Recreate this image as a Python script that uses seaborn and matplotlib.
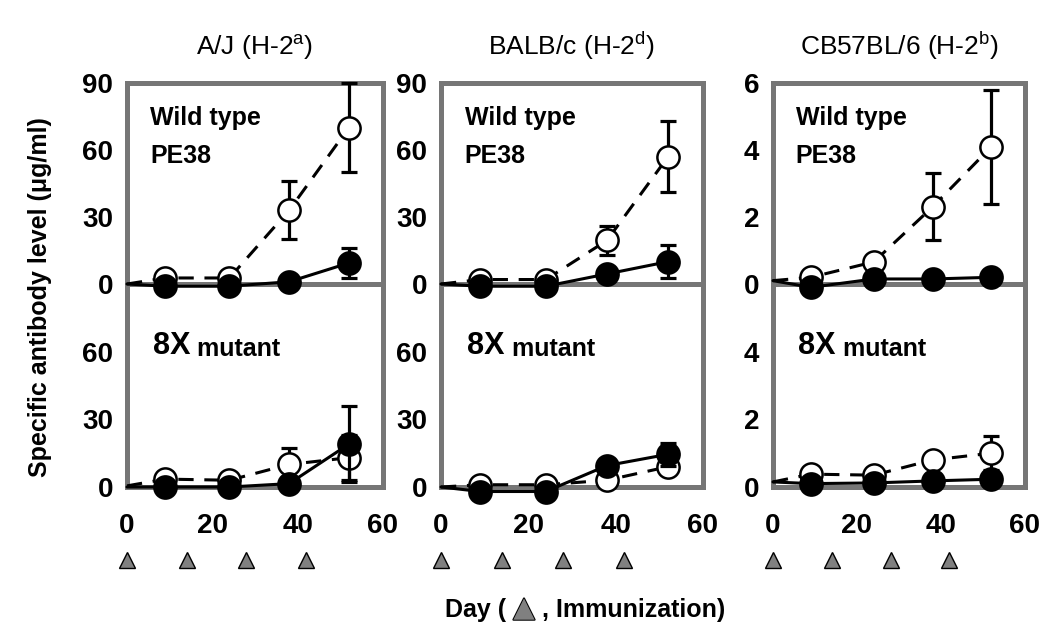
import matplotlib
matplotlib.use('Agg')

import pandas as pd
import matplotlib.pyplot as plt
import matplotlib.patheffects as pe
import seaborn as sns

# -------------------------------
# Data
# -------------------------------
days = [0, 9, 24, 38, 52]
immunization_days = [0, 14, 28, 42]

strains = ["A/J (H-2$^{a}$)", "BALB/c (H-2$^{d}$)", "CB57BL/6 (H-2$^{b}$)"]

# A/J
aj_wt_open = [0, 2.7, 2.7, 33, 70]
aj_wt_open_err = [0, 0, 0, 13, 20]
aj_wt_filled = [0, -1, -1, 1, 9.4]
aj_wt_filled_err = [0, 0, 0, 0, 6.5]
aj_mut_open = [0.5, 3.5, 3, 10, 13]
aj_mut_open_err = [0, 0, 0, 7.5, 10]
aj_mut_filled = [0, 0, 0, 1.5, 19]
aj_mut_filled_err = [0, 0, 0, 0, 17]

# BALB/c
balb_wt_open = [0, 2, 2, 19.5, 57]
balb_wt_open_err = [0, 0, 0, 6.5, 16]
balb_wt_filled = [0, -1, -1, 4.5, 10]
balb_wt_filled_err = [0, 0, 0, 0, 7.5]
balb_mut_open = [0, 1, 1, 3, 9]
balb_mut_open_err = [0, 0, 0, 0, 0]
balb_mut_filled = [0, -2, -2, 9.5, 14.5]
balb_mut_filled_err = [0, 0, 0, 0, 5]

# C57BL/6
c57_wt_open = [0.1, 0.2, 0.66, 2.3, 4.1]
c57_wt_open_err = [0, 0, 0, 1.0, 1.7]
c57_wt_filled = [0.1, -0.1, 0.15, 0.15, 0.2]
c57_wt_filled_err = [0, 0, 0, 0, 0]
c57_mut_open = [0.15, 0.38, 0.35, 0.8, 1.0]
c57_mut_open_err = [0, 0, 0, 0, 0.5]
c57_mut_filled = [0.15, 0.1, 0.12, 0.18, 0.23]
c57_mut_filled_err = [0, 0, 0, 0, 0]

panels = [
    # (wt open, err, wt filled, err), (mut open, err, mut filled, err)
    [(aj_wt_open, aj_wt_open_err, aj_wt_filled, aj_wt_filled_err),
     (aj_mut_open, aj_mut_open_err, aj_mut_filled, aj_mut_filled_err)],
    [(balb_wt_open, balb_wt_open_err, balb_wt_filled, balb_wt_filled_err),
     (balb_mut_open, balb_mut_open_err, balb_mut_filled, balb_mut_filled_err)],
    [(c57_wt_open, c57_wt_open_err, c57_wt_filled, c57_wt_filled_err),
     (c57_mut_open, c57_mut_open_err, c57_mut_filled, c57_mut_filled_err)],
]
y_max = [90, 90, 6]
y_step = [30, 30, 2]

# -------------------------------
# Style
# -------------------------------
sns.set_theme(style="white")
plt.rcParams["font.family"] = ["Liberation Sans", "DejaVu Sans"]
plt.rcParams["mathtext.default"] = "regular"
plt.rcParams["text.color"] = "black"
plt.rcParams["xtick.labelcolor"] = "black"
plt.rcParams["ytick.labelcolor"] = "black"
GRAY = "#767676"
SPINE_W = 3.6

fig = plt.figure(figsize=(10.5, 6.39), dpi=100)

# axes boxes in figure fractions (left, width)
cols = [(127 / 1050, 256 / 1050), (441 / 1050, 262 / 1050), (773 / 1050, 252 / 1050)]
top_box = (1 - 284 / 639, 201 / 639)
bot_box = (1 - 487 / 639, 203 / 639)


def style_axis(ax):
    for s in ax.spines.values():
        s.set_color(GRAY)
        s.set_linewidth(SPINE_W)
        s.set_visible(True)
    ax.tick_params(direction="out", length=7, width=SPINE_W, color=GRAY,
                   labelsize=20, labelcolor="black", pad=3)
    ax.tick_params(axis="x", pad=12)
    for lab in ax.get_xticklabels() + ax.get_yticklabels():
        lab.set_fontweight("bold")
    ax.set_facecolor("white")
    ax.grid(False)


def draw_series(ax, vals, err, filled, z):
    df = pd.DataFrame({"day": days, "level": vals})
    ax.errorbar(days[1:], vals[1:], yerr=err[1:], fmt="none", ecolor="black",
                elinewidth=2.3, capsize=6, capthick=2.3, zorder=z, clip_on=False)
    sns.lineplot(data=df, x="day", y="level", ax=ax, color="black",
                 linestyle="-" if filled else (0, (5, 3.5)), linewidth=2.2,
                 marker="o", markevery=list(range(1, len(days))),
                 markersize=16, markeredgewidth=1.8, markeredgecolor="black",
                 markerfacecolor="black" if filled else "white",
                 zorder=z + 1, clip_on=False, errorbar=None, legend=False)


for c, (left, width) in enumerate(cols):
    ax_top = fig.add_axes([left, top_box[0], width, top_box[1]])
    ax_bot = fig.add_axes([left, bot_box[0], width, bot_box[1]])
    ax_top.set_zorder(3)
    (wo, woe, wf, wfe), (mo, moe, mf, mfe) = panels[c]

    draw_series(ax_top, wo, woe, False, 4)
    draw_series(ax_top, wf, wfe, True, 6)
    draw_series(ax_bot, mo, moe, False, 4)
    draw_series(ax_bot, mf, mfe, True, 6)

    for ax in (ax_top, ax_bot):
        ax.set_xlim(0, 60)
        ax.set_ylim(0, y_max[c])
        ax.set_xlabel("")
        ax.set_ylabel("")

    ax_top.set_yticks([y_step[c] * i for i in range(4)])
    ax_top.set_xticks([])
    ax_bot.set_yticks([y_step[c] * i for i in range(3)])
    ax_bot.set_xticks([0, 20, 40, 60])
    style_axis(ax_top)
    style_axis(ax_bot)
    ax_top.patch.set_alpha(0)

    ax_top.set_title(strains[c], fontsize=19, pad=20, color="black")

    ax_top.text(0.09, 0.79, "Wild type", transform=ax_top.transAxes,
                fontsize=18, fontweight="bold", va="baseline")
    ax_top.text(0.09, 0.60, "PE38", transform=ax_top.transAxes,
                fontsize=18, fontweight="bold", va="baseline")
    t8 = ax_bot.text(0.10, 0.655, "8X", transform=ax_bot.transAxes,
                     fontsize=22, fontweight="bold", va="baseline")
    ax_bot.annotate(" mutant", xy=(1, 0), xycoords=t8, va="bottom",
                    fontsize=18, fontweight="bold")

    # immunization markers below the axis
    ax_bot.plot(immunization_days, [-0.36] * len(immunization_days),
                transform=ax_bot.get_xaxis_transform(), linestyle="none",
                marker="^", markersize=12, markerfacecolor="#808080",
                markeredgecolor="black", markeredgewidth=1, clip_on=False)

fig.text(0.038, 0.535, "Specific antibody level (\u03bcg/ml)", rotation=90,
         ha="center", va="center", fontsize=18, fontweight="bold")

t1 = fig.text(0.424, 0.034, "Day ( ", fontsize=18, fontweight="bold",
              va="baseline")
a2 = plt.annotate("\u25b2", xy=(1, 0), xycoords=t1, va="bottom",
                  fontsize=20, color="#808080", family=["DejaVu Sans"],
                  annotation_clip=False,
                  path_effects=[pe.withStroke(linewidth=1.5, foreground="black")])
plt.annotate(" , Immunization)", xy=(1, 0), xycoords=a2, va="bottom",
             fontsize=18, fontweight="bold", annotation_clip=False)

fig.savefig("out.png", dpi=100, facecolor="white")
